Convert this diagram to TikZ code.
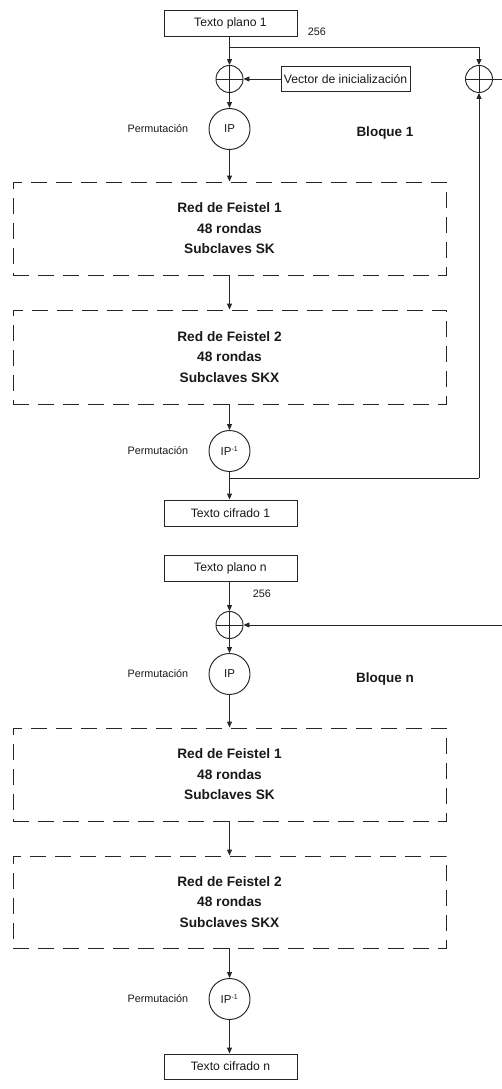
\documentclass[tikz,border=0pt]{standalone}
\usepackage{fontspec}
\setmainfont{Liberation Sans}
\usetikzlibrary{arrows.meta}
\begin{document}
\begin{tikzpicture}[x=1pt,y=-1pt,
  line width=0.95pt, draw=black!85, text=black!90,
  >={Triangle[length=6pt,width=5pt]},
  txtbox/.style={draw, minimum width=133pt, minimum height=26pt, inner sep=0pt,
    font=\fontsize{12.2}{14}\selectfont},
  ivbox/.style={draw, minimum width=129pt, minimum height=25pt, inner sep=0pt,
    font=\fontsize{12.2}{14}\selectfont},
  xorop/.style={draw, circle, minimum size=27pt, inner sep=0pt,
    path picture={\draw (path picture bounding box.north) -- (path picture bounding box.south)
      (path picture bounding box.west) -- (path picture bounding box.east);}},
  perm/.style={draw, circle, minimum size=41pt, inner sep=0pt,
    font=\fontsize{11.5}{13}\selectfont},
  feistel/.style={draw, dash pattern=on 16pt off 9pt, minimum width=433pt, inner sep=0pt,
    align=center, font=\fontsize{13.7}{20.5}\selectfont\bfseries},
  small/.style={font=\fontsize{10.8}{12}\selectfont},
  blocklbl/.style={font=\fontsize{13.5}{15}\selectfont\bfseries}
]
\useasboundingbox (0,0) rectangle (502,1089);

% ---------- Bloque 1 ----------
\node[txtbox] (p1) at (230.5,23) {Texto plano 1};
\node[small, anchor=west] (n1) at (304,32) {256};
\coordinate (j1) at (229.5,47);
\node[xorop] (x1) at (229.5,79) {};
\node[ivbox] (iv) at (345.5,79) {Vector de inicializaci\'on};
\node[xorop] (xr) at (479,79) {};
\coordinate (xrout) at (502,79);
\node[perm] (ip1) at (229.5,129) {IP};
\node[small, anchor=east] (pm1) at (192,129) {Permutaci\'on};
\node[blocklbl] (b1) at (385,133) {Bloque 1};
\node[feistel, minimum height=93pt] (f1) at (229.5,228.5)
  {Red de Feistel 1\\48 rondas\\Subclaves SK};
\node[feistel, minimum height=94pt] (f2) at (229.5,357)
  {Red de Feistel 2\\48 rondas\\Subclaves SKX};
\node[perm] (ipi1) at (229.5,451) {IP\textsuperscript{\fontsize{7}{7}\selectfont -1}};
\node[small, anchor=east] (pm2) at (192,451) {Permutaci\'on};
\coordinate (j2) at (229.5,478);
\coordinate (j3) at (479,478);
\node[txtbox] (c1) at (230.5,513) {Texto cifrado 1};

\draw (p1.south -| j1) -- (j1);
\draw[->] (j1) -- (x1);
\draw[->] (j1) -| (xr);
\draw[->] (iv) -- (x1);
\draw (xr) -- (xrout);
\draw[->] (x1) -- (ip1);
\draw[->] (ip1) -- (f1);
\draw[->] (f1) -- (f2);
\draw[->] (f2) -- (ipi1);
\draw[->] (ipi1) -- (ipi1 |- c1.north);
\draw (j2) -- (j3);
\draw[->] (j3) -- (xr);

% ---------- Bloque n ----------
\node[txtbox] (pn) at (230.5,568) {Texto plano n};
\node[small, anchor=west] (nn) at (249,594) {256};
\node[xorop] (xn) at (229.5,625) {};
\coordinate (xnin) at (502,625);
\node[perm] (ipn) at (229.5,674) {IP};
\node[small, anchor=east] (pm3) at (192,674) {Permutaci\'on};
\node[blocklbl] (bn) at (385,679) {Bloque n};
\node[feistel, minimum height=93pt] (f3) at (229.5,774.5)
  {Red de Feistel 1\\48 rondas\\Subclaves SK};
\node[feistel, minimum height=92pt] (f4) at (229.5,902)
  {Red de Feistel 2\\48 rondas\\Subclaves SKX};
\node[perm] (ipin) at (229.5,999) {IP\textsuperscript{\fontsize{7}{7}\selectfont -1}};
\node[small, anchor=east] (pm4) at (192,999) {Permutaci\'on};
\node[txtbox, minimum height=25pt] (cn) at (230.5,1066.5) {Texto cifrado n};

\draw[->] (pn.south -| xn) -- (xn);
\draw[->] (xnin) -- (xn);
\draw[->] (xn) -- (ipn);
\draw[->] (ipn) -- (f3);
\draw[->] (f3) -- (f4);
\draw[->] (f4) -- (ipin);
\draw[->] (ipin) -- (ipin |- cn.north);
\end{tikzpicture}
\end{document}
